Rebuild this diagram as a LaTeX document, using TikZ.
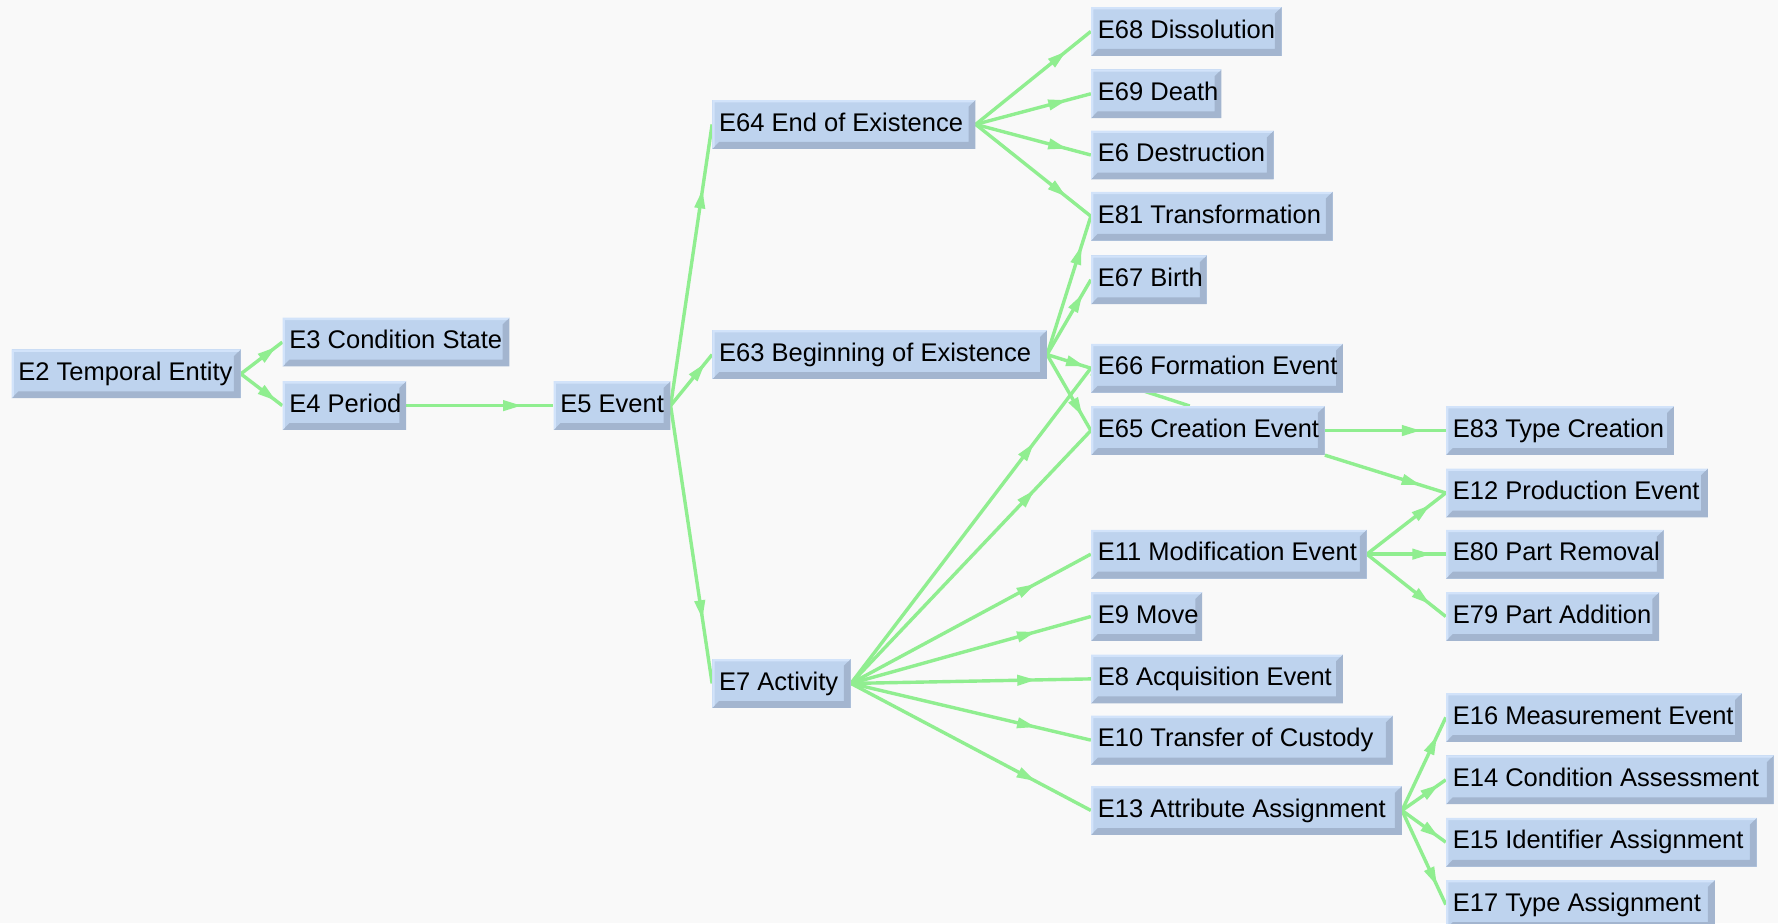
\documentclass[tikz,border=0pt]{standalone}
\usepackage{fontspec}
\setmainfont{Liberation Sans}
\usetikzlibrary{arrows.meta,decorations.markings,calc}
\definecolor{bgc}{RGB}{249,249,249}
\definecolor{boxc}{RGB}{190,211,238}
\definecolor{boxhi}{RGB}{210,227,250}
\definecolor{boxdk}{RGB}{163,181,207}
\definecolor{edgec}{RGB}{144,238,144}
\pgfdeclarelayer{bglayer}
\pgfdeclarelayer{edgelayer}
\pgfsetlayers{bglayer,edgelayer,main}
\tikzset{
  ebox/.style={rectangle, fill=boxc, anchor=north west, minimum height=43pt,
    inner xsep=6pt, inner ysep=0pt, text height=16pt, text depth=4pt,
    font=\fontsize{22.5}{26}\selectfont, text=black,
    path picture={
      \fill[boxdk] (path picture bounding box.south west) -- (path picture bounding box.south east)
        -- (path picture bounding box.north east) -- ([shift={(-6pt,-6pt)}]path picture bounding box.north east)
        -- ([shift={(-6pt,6pt)}]path picture bounding box.south east) -- ([shift={(6pt,6pt)}]path picture bounding box.south west) -- cycle;
      \fill[boxhi] (path picture bounding box.south west) -- (path picture bounding box.north west)
        -- (path picture bounding box.north east) -- ([shift={(-2pt,-2pt)}]path picture bounding box.north east)
        -- ([shift={(2pt,-2pt)}]path picture bounding box.north west) -- ([shift={(2pt,2pt)}]path picture bounding box.south west) -- cycle;
    }},
  link/.style={draw=edgec, line width=3pt, postaction={decorate},
    decoration={markings, mark=at position 0.75 with {\fill[edgec] (4pt,0) -- (-12pt,5pt) -- (-12pt,-5pt) -- cycle;}}},
}
\newcommand\ebx[5]{%
  \pgfmathsetmacro\ebtw{#4-12}%
  \node[ebox, minimum width=#4pt] (#1) at (#2,#3) {\makebox[\ebtw pt][l]{#5}};}
\begin{document}
\begin{tikzpicture}[x=1pt,y=-1pt]
\useasboundingbox (0,0) rectangle (1568,814);
\begin{pgfonlayer}{bglayer}
  \fill[bgc] (0,0) rectangle (1568,814);
\end{pgfonlayer}
\ebx{E2}{10}{308}{202}{E2 Temporal Entity}
\ebx{E3}{249}{280}{200}{E3 Condition State}
\ebx{E4}{249}{336}{109}{E4 Period}
\ebx{E5}{488}{336}{103}{E5 Event}
\ebx{E64}{628}{88}{232}{E64 End of Existence}
\ebx{E63}{628}{291}{295}{E63 Beginning of Existence}
\ebx{E7}{628}{581}{122}{E7 Activity}
\ebx{E68}{962}{6}{168}{E68 Dissolution}
\ebx{E69}{962}{61}{115}{E69 Death}
\ebx{E6}{962}{115}{161}{E6 Destruction}
\ebx{E81}{962}{169}{213}{E81 Transformation}
\ebx{E67}{962}{225}{102}{E67 Birth}
\ebx{E66}{962}{303}{222}{E66 Formation Event}
\ebx{E65}{962}{358}{206}{E65 Creation Event}
\ebx{E11}{962}{467}{243}{E11 Modification Event}
\ebx{E9}{962}{522}{98}{E9 Move}
\ebx{E8}{962}{577}{222}{E8 Acquisition Event}
\ebx{E10}{962}{631}{266}{E10 Transfer of Custody}
\ebx{E13}{962}{693}{274}{E13 Attribute Assignment}
\ebx{E83}{1275}{358}{201}{E83 Type Creation}
\ebx{E12}{1275}{413}{231}{E12 Production Event}
\ebx{E80}{1275}{467}{192}{E80 Part Removal}
\ebx{E79}{1275}{522}{188}{E79 Part Addition}
\ebx{E16}{1275}{611}{261}{E16 Measurement Event}
\ebx{E14}{1275}{666}{289}{E14 Condition Assessment}
\ebx{E15}{1275}{721}{274}{E15 Identifier Assignment}
\ebx{E17}{1275}{776}{237}{E17 Type Assignment}
\begin{pgfonlayer}{edgelayer}
  \draw[link] (E2.east) -- (E3.west);
  \draw[link] (E2.east) -- (E4.west);
  \draw[link] (E4.east) -- (E5.west);
  \draw[link] (E5.east) -- (E64.west);
  \draw[link] (E5.east) -- (E63.west);
  \draw[link] (E5.east) -- (E7.west);
  \draw[link] (E64.east) -- (E68.west);
  \draw[link] (E64.east) -- (E69.west);
  \draw[link] (E64.east) -- (E6.west);
  \draw[link] (E64.east) -- (E81.west);
  \draw[link] (E63.east) -- (E81.west);
  \draw[link] (E63.east) -- (E67.west);
  \draw[link] (E63.east) -- (E66.west);
  \draw[link] (E63.east) -- (E65.west);
  \draw[link] ([xshift=-16pt]E65.north) -- ([yshift=-5pt]E66.west);
  \draw[link] (E7.east) -- (E66.west);
  \draw[link] (E7.east) -- (E65.west);
  \draw[link] (E7.east) -- (E11.west);
  \draw[link] (E7.east) -- (E9.west);
  \draw[link] (E7.east) -- (E8.west);
  \draw[link] (E7.east) -- (E10.west);
  \draw[link] (E7.east) -- (E13.west);
  \draw[link] (E65.east) -- (E83.west);
  \draw[link] (E65.south east) -- (E12.west);
  \draw[link] (E11.east) -- (E12.west);
  \draw[link] (E11.east) -- (E80.west);
  \draw[link] (E11.east) -- (E79.west);
  \draw[link] (E13.east) -- (E16.west);
  \draw[link] (E13.east) -- (E14.west);
  \draw[link] (E13.east) -- (E15.west);
  \draw[link] (E13.east) -- (E17.west);
\end{pgfonlayer}
\end{tikzpicture}
\end{document}
